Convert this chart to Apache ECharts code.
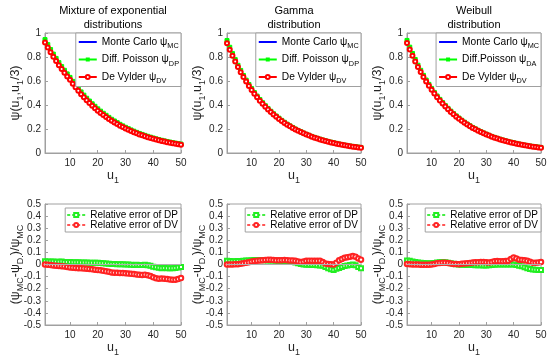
<!DOCTYPE html>
<html><head><meta charset="utf-8">
<script src="https://cdn.jsdelivr.net/npm/echarts@6/dist/echarts.min.js"></script>
<style>html,body{margin:0;padding:0;background:#fff}#c{width:550px;height:363px}</style>
</head><body><div id="c"></div>
<script>
const u = [1,2,3,4,5,6,7,8,9,10,11,12,13,14,15,16,17,18,19,20,21,22,23,24,25,26,27,28,29,30,31,32,33,34,35,36,37,38,39,40,41,42,43,44,45,46,47,48,49,50];
const xTicks = [10,20,30,40,50];
const titles = [['Mixture of exponential','distributions'],['Gamma','distribution'],['Weibull','distribution']];
const dpLabels = [['Diff. Poisson ψ','DP'],['Diff. Poisson ψ','DP'],['Diff.Poisson ψ','DA']];

const mixMC = [0.930,0.890,0.850,0.812,0.776,0.742,0.709,0.678,0.648,0.620,0.587,0.556,0.527,0.499,0.472,0.447,0.424,0.401,0.380,0.360,0.341,0.323,0.306,0.290,0.274,0.260,0.246,0.233,0.220,0.208,0.197,0.187,0.177,0.167,0.158,0.150,0.142,0.134,0.127,0.120,0.114,0.108,0.102,0.097,0.092,0.087,0.082,0.078,0.074,0.070];
const mixDP = [0.945,0.903,0.862,0.824,0.788,0.753,0.720,0.689,0.659,0.630,0.597,0.566,0.537,0.509,0.482,0.456,0.433,0.410,0.389,0.368,0.349,0.331,0.314,0.297,0.281,0.267,0.253,0.239,0.226,0.214,0.203,0.192,0.182,0.172,0.163,0.155,0.147,0.139,0.132,0.125,0.118,0.112,0.106,0.101,0.096,0.091,0.086,0.082,0.078,0.074];
const mixDV = [0.920,0.880,0.840,0.802,0.766,0.732,0.699,0.668,0.638,0.610,0.578,0.547,0.518,0.490,0.464,0.439,0.416,0.394,0.373,0.353,0.334,0.317,0.300,0.284,0.269,0.255,0.241,0.228,0.216,0.204,0.193,0.183,0.173,0.164,0.155,0.147,0.139,0.131,0.124,0.118,0.112,0.106,0.100,0.095,0.090,0.085,0.081,0.077,0.073,0.069];

const gamMC = [0.925,0.870,0.818,0.769,0.723,0.680,0.639,0.601,0.565,0.531,0.499,0.469,0.441,0.415,0.390,0.367,0.345,0.324,0.305,0.287,0.270,0.254,0.238,0.224,0.211,0.198,0.186,0.175,0.165,0.155,0.146,0.137,0.129,0.121,0.114,0.107,0.101,0.095,0.089,0.084,0.079,0.074,0.070,0.065,0.061,0.058,0.054,0.051,0.048,0.045];
const gamDP = [0.937,0.881,0.828,0.778,0.731,0.688,0.646,0.607,0.571,0.537,0.504,0.474,0.446,0.419,0.394,0.371,0.348,0.327,0.308,0.290,0.272,0.256,0.240,0.226,0.213,0.200,0.188,0.177,0.166,0.156,0.147,0.138,0.130,0.122,0.115,0.108,0.102,0.096,0.090,0.085,0.080,0.075,0.070,0.066,0.062,0.058,0.055,0.052,0.049,0.046];
const gamDV = [0.915,0.861,0.810,0.762,0.716,0.673,0.633,0.595,0.559,0.526,0.494,0.464,0.436,0.411,0.386,0.363,0.341,0.321,0.302,0.284,0.267,0.251,0.236,0.222,0.209,0.196,0.185,0.174,0.164,0.154,0.145,0.136,0.128,0.120,0.113,0.106,0.100,0.094,0.088,0.083,0.078,0.073,0.068,0.064,0.060,0.056,0.052,0.049,0.046,0.043];

const weiMC = [0.926,0.871,0.819,0.770,0.724,0.681,0.640,0.602,0.566,0.532,0.500,0.470,0.442,0.416,0.391,0.368,0.346,0.325,0.306,0.288,0.271,0.254,0.239,0.225,0.211,0.199,0.187,0.176,0.165,0.155,0.146,0.137,0.129,0.121,0.114,0.107,0.101,0.095,0.089,0.084,0.079,0.074,0.069,0.065,0.061,0.057,0.054,0.050,0.047,0.044];
const weiDP = [0.938,0.882,0.829,0.779,0.732,0.689,0.647,0.608,0.572,0.538,0.505,0.475,0.447,0.420,0.395,0.372,0.349,0.328,0.309,0.291,0.273,0.257,0.241,0.227,0.213,0.201,0.189,0.177,0.167,0.157,0.147,0.138,0.130,0.122,0.115,0.108,0.102,0.096,0.090,0.085,0.080,0.075,0.070,0.066,0.062,0.058,0.055,0.052,0.049,0.046];
const weiDV = [0.916,0.862,0.811,0.763,0.717,0.674,0.634,0.596,0.560,0.527,0.495,0.465,0.437,0.412,0.387,0.364,0.342,0.322,0.303,0.285,0.268,0.252,0.237,0.222,0.209,0.197,0.185,0.174,0.164,0.154,0.145,0.136,0.128,0.120,0.113,0.106,0.100,0.094,0.088,0.083,0.078,0.073,0.068,0.064,0.060,0.056,0.052,0.049,0.046,0.043];

const mixErrDP = [0.027,0.025,0.024,0.025,0.023,0.022,0.024,0.021,0.020,0.020,0.019,0.018,0.019,0.017,0.016,0.016,0.015,0.014,0.015,0.014,0.012,0.010,0.008,0.006,0.005,0.004,0.003,0.002,0.003,0.001,0.000,-0.002,-0.004,-0.003,-0.005,-0.004,-0.002,-0.006,-0.010,-0.018,-0.022,-0.026,-0.030,-0.028,-0.030,-0.032,-0.031,-0.028,-0.024,-0.020];
const mixErrDV = [0.000,-0.002,-0.005,-0.008,-0.010,-0.012,-0.014,-0.016,-0.020,-0.024,-0.026,-0.028,-0.030,-0.031,-0.033,-0.035,-0.037,-0.040,-0.043,-0.046,-0.048,-0.052,-0.056,-0.060,-0.066,-0.068,-0.069,-0.070,-0.071,-0.073,-0.075,-0.077,-0.079,-0.082,-0.085,-0.086,-0.084,-0.088,-0.096,-0.106,-0.113,-0.118,-0.116,-0.117,-0.120,-0.123,-0.126,-0.126,-0.120,-0.112];
const gamErrDP = [0.030,0.028,0.027,0.027,0.028,0.029,0.031,0.033,0.034,0.036,0.038,0.038,0.037,0.036,0.035,0.034,0.034,0.033,0.032,0.031,0.030,0.028,0.026,0.024,0.021,0.016,0.010,0.004,0.000,-0.002,-0.003,-0.004,-0.005,-0.006,-0.008,-0.010,-0.020,-0.032,-0.040,-0.045,-0.035,-0.028,-0.020,-0.012,-0.008,-0.004,0.000,-0.006,-0.020,-0.030];
const gamErrDV = [0.000,0.000,0.001,0.002,0.003,0.006,0.010,0.014,0.018,0.024,0.028,0.032,0.034,0.036,0.038,0.040,0.039,0.037,0.035,0.035,0.036,0.037,0.036,0.034,0.033,0.030,0.025,0.020,0.024,0.030,0.032,0.031,0.030,0.030,0.030,0.020,0.008,0.005,0.003,0.000,0.015,0.035,0.045,0.055,0.060,0.065,0.070,0.065,0.050,0.040];
const weiErrDP = [0.033,0.030,0.025,0.020,0.017,0.014,0.012,0.010,0.010,0.011,0.013,0.016,0.019,0.020,0.018,0.014,0.010,0.006,0.003,0.000,-0.002,-0.003,-0.004,-0.005,-0.005,-0.006,-0.007,-0.007,-0.008,-0.008,-0.006,-0.004,-0.002,-0.001,0.000,0.000,0.001,0.000,0.001,0.000,-0.005,-0.010,-0.015,-0.022,-0.030,-0.038,-0.042,-0.044,-0.046,-0.045];
const weiErrDV = [0.005,0.003,0.001,0.000,0.000,-0.002,-0.003,-0.003,-0.003,0.000,0.004,0.010,0.013,0.015,0.015,0.012,0.008,0.005,0.004,0.003,0.006,0.009,0.011,0.013,0.016,0.018,0.019,0.020,0.020,0.018,0.016,0.020,0.027,0.028,0.027,0.026,0.028,0.032,0.045,0.058,0.050,0.040,0.038,0.035,0.030,0.022,0.015,0.014,0.017,0.020];

const topMC = [mixMC, gamMC, weiMC];
const topDP = [mixDP, gamDP, weiDP];
const topDV = [mixDV, gamDV, weiDV];
const errDP = [mixErrDP, gamErrDP, weiErrDP];
const errDV = [mixErrDV, gamErrDV, weiErrDV];

const FONT = '"Liberation Sans", Arial, Helvetica, sans-serif';
const gridLefts = [45, 227, 407];
const gridWidths = [136, 134, 134];
const legRich = {
  t: {fontSize: 10.2, lineHeight: 15, fontFamily: FONT, color: '#000'},
  s: {fontSize: 7.3, lineHeight: 6, verticalAlign: 'bottom', fontFamily: FONT, color: '#000'}
};
const nameRich = {
  t: {fontSize: 12.5, lineHeight: 19, fontFamily: FONT, color: '#262626'},
  s: {fontSize: 9, lineHeight: 8, verticalAlign: 'bottom', fontFamily: FONT, color: '#262626'}
};
const pairs = (ys) => u.map((x, i) => [x, ys[i]]);

const grids = [], xAxes = [], yAxes = [], series = [], legends = [], graphics = [];
const nameMap = {};
for (let p = 0; p < 3; p++) {
  grids.push({left: gridLefts[p], top: 33, width: gridWidths[p], height: 120, show: true, borderColor: '#a0a0a0', borderWidth: 1});
  grids.push({left: gridLefts[p], top: 204, width: gridWidths[p], height: 121, show: true, borderColor: '#a0a0a0', borderWidth: 1});
  titles[p].forEach((line, k) => {
    graphics.push({type: 'text', x: gridLefts[p] + gridWidths[p] / 2, y: 11 + k * 13.5,
      style: {text: line, align: 'center', verticalAlign: 'middle', fontSize: 11, fontFamily: FONT, fill: '#000'}});
  });
}
for (let g = 0; g < 6; g++) {
  const isTop = g % 2 === 0;
  xAxes.push({type: 'value', gridIndex: g, min: 1, max: 50,
    axisLine: {show: true, onZero: false, lineStyle: {color: '#a0a0a0'}},
    axisTick: {show: true, inside: true, length: 3, customValues: xTicks, lineStyle: {color: '#a0a0a0'}},
    axisLabel: {customValues: xTicks, fontSize: 10, color: '#262626', margin: 5, fontFamily: FONT},
    splitLine: {show: false},
    name: '{t|u}{s|1}', nameLocation: 'middle', nameGap: 13,
    nameTextStyle: {rich: nameRich}});
  yAxes.push({type: 'value', gridIndex: g,
    min: isTop ? 0 : -0.5, max: isTop ? 1 : 0.5, interval: isTop ? 0.2 : 0.1,
    axisLine: {show: true, onZero: false, lineStyle: {color: '#a0a0a0'}},
    axisTick: {show: true, inside: true, length: 3, lineStyle: {color: '#a0a0a0'}},
    axisLabel: {fontSize: 10, color: '#262626', margin: 4, fontFamily: FONT},
    splitLine: {show: false},
    name: isTop ? '{t|ψ(u}{s|1}{t|,u}{s|1}{t|/3)}' : '{t|(ψ}{s|MC}{t|-ψ}{s|D.}{t|)/ψ}{s|MC}',
    nameLocation: 'middle', nameGap: 19.5, nameMoveOverlap: false,
    nameTextStyle: {rich: nameRich}});
}
for (let p = 0; p < 3; p++) {
  const gt = 2 * p, gb = 2 * p + 1;
  const rightPos = 550 - (gridLefts[p] + gridWidths[p]);
  nameMap['mc' + p] = '{t|Monte Carlo ψ}{s|MC}';
  nameMap['dp' + p] = '{t|' + dpLabels[p][0] + '}{s|' + dpLabels[p][1] + '}';
  nameMap['dv' + p] = '{t|De Vylder ψ}{s|DV}';
  nameMap['edp' + p] = '{r|Relative error of DP}';
  nameMap['edv' + p] = '{r|Relative error of DV}';
  series.push({name: 'mc' + p, type: 'line', xAxisIndex: gt, yAxisIndex: gt, data: pairs(topMC[p]),
    showSymbol: false, symbol: 'none', lineStyle: {color: '#0000ff', width: 1.5}, itemStyle: {color: '#0000ff'}});
  series.push({name: 'dp' + p, type: 'line', xAxisIndex: gt, yAxisIndex: gt, data: pairs(topDP[p]),
    symbol: 'rect', symbolSize: 4, lineStyle: {color: '#00ff00', width: 1.2},
    itemStyle: {color: '#00ff00', borderColor: '#00ff00'}});
  series.push({name: 'dv' + p, type: 'line', xAxisIndex: gt, yAxisIndex: gt, data: pairs(topDV[p]),
    symbol: 'emptyCircle', symbolSize: 4, lineStyle: {color: '#ff0000', width: 1},
    itemStyle: {color: '#ff0000', borderColor: '#ff0000', borderWidth: 1}});
  series.push({name: 'edp' + p, type: 'line', xAxisIndex: gb, yAxisIndex: gb, data: pairs(errDP[p]),
    symbol: 'emptyRect', symbolSize: 4, lineStyle: {color: '#44ee44', width: 1, type: [3, 2]},
    itemStyle: {color: '#22ee22', borderColor: '#22ee22', borderWidth: 1},
    markLine: {silent: true, symbol: 'none', label: {show: false}, lineStyle: {color: '#b0b0b0', width: 1, type: 'solid'}, data: [{yAxis: 0}]}});
  series.push({name: 'edv' + p, type: 'line', xAxisIndex: gb, yAxisIndex: gb, data: pairs(errDV[p]),
    symbol: 'emptyCircle', symbolSize: 4.5, lineStyle: {color: '#ff5555', width: 1, type: [3, 2]},
    itemStyle: {color: '#ff2222', borderColor: '#ff2222', borderWidth: 1}});
  legends.push({orient: 'vertical', right: rightPos, top: 33, itemWidth: 18, itemHeight: 5, itemGap: 5,
    padding: [4, 2, 2, 2], borderColor: '#a0a0a0', borderWidth: 1, backgroundColor: '#fff',
    data: [{name: 'mc' + p, itemStyle: {opacity: 0}}, 'dp' + p, 'dv' + p], selectedMode: false,
    formatter: n => nameMap[n], textStyle: {rich: legRich}});
  legends.push({orient: 'vertical', right: rightPos, top: 208, itemWidth: 18, itemHeight: 5, itemGap: 0,
    padding: [2, 3, 2, 1], borderColor: '#a0a0a0', borderWidth: 1, backgroundColor: '#fff',
    data: ['edp' + p, 'edv' + p], selectedMode: false,
    formatter: n => nameMap[n],
    textStyle: {rich: {r: {fontSize: 10, lineHeight: 12, fontFamily: FONT, color: '#000'}}}});
}
const chart = echarts.init(document.getElementById('c'), null, {renderer: 'canvas'});
chart.setOption({animation: false, backgroundColor: '#fff', grid: grids,
  xAxis: xAxes, yAxis: yAxes, legend: legends, series: series, graphic: graphics});
</script></body></html>
